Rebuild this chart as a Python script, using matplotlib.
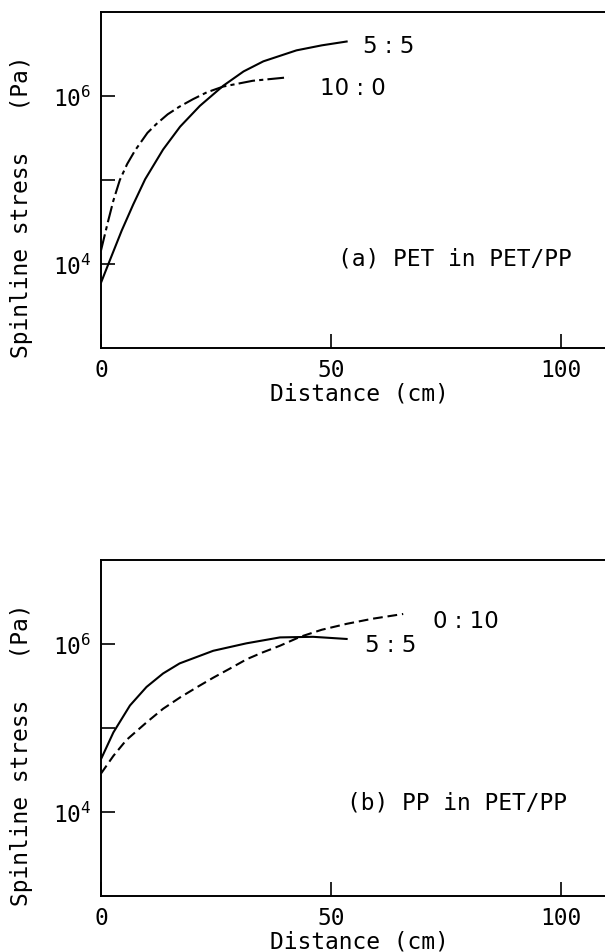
import matplotlib
matplotlib.use("Agg")
import matplotlib.pyplot as plt
from matplotlib.ticker import FixedLocator, FixedFormatter

plt.rcParams['font.family'] = 'DejaVu Sans Mono'
plt.rcParams['mathtext.fontset'] = 'custom'
plt.rcParams['mathtext.rm'] = 'DejaVu Sans Mono'
plt.rcParams['lines.scale_dashes'] = False

# (a) PET in PET/PP  -- distance (cm), spinline stress (Pa)
a55_x = [0, 1.6, 4.5, 7, 9.6, 13.5, 17.2, 21.5, 26.6, 31, 35.3, 42.5, 48, 53.4]
a55_y = [6.0e3, 1.0e4, 2.5e4, 5.1e4, 1.02e5, 2.3e5, 4.3e5, 7.6e5, 1.32e6,
         1.95e6, 2.57e6, 3.47e6, 3.98e6, 4.42e6]
a100_x = [0, 1.5, 2.7, 4.1, 5.7, 7.4, 10.1, 12, 14.5, 17, 20, 23, 26.6, 33, 40.7]
a100_y = [1.45e4, 3.16e4, 5.7e4, 1.0e5, 1.55e5, 2.24e5, 3.63e5, 4.6e5,
          6.03e5, 7.4e5, 9.12e5, 1.1e6, 1.29e6, 1.51e6, 1.66e6]

# (b) PP in PET/PP
b55_x = [0, 2.7, 6.3, 9.9, 13.5, 17.1, 24.4, 31.6, 38.9, 46.1, 53.4]
b55_y = [4.27e4, 8.9e4, 1.86e5, 3.09e5, 4.47e5, 5.89e5, 8.32e5, 1.02e6,
         1.2e6, 1.22e6, 1.15e6]
b010_x = [0, 2.7, 5.5, 9.9, 13.5, 17.2, 21, 24.4, 28, 31.7, 35, 38.9, 43.3,
          48, 53.4, 59, 65.7]
b010_y = [2.88e4, 4.68e4, 7.2e4, 1.17e5, 1.7e5, 2.32e5, 3.1e5, 3.98e5,
          5.1e5, 6.61e5, 7.9e5, 9.55e5, 1.22e6, 1.48e6, 1.74e6, 2.0e6, 2.28e6]

xticks = [0, 50, 100]
xticklabels = ['0', '50', '100']
yticks = [1e4, 1e5, 1e6]
yticklabels = ['$10^4$', '', '$10^6$']

fig = plt.figure(figsize=(6.05, 9.53), dpi=100)
ax1 = fig.add_axes([0.1669, 0.6335, 0.8364, 0.3532])
ax2 = fig.add_axes([0.1669, 0.05845, 0.8364, 0.35289])

for ax in (ax1, ax2):
    ax.set_yscale('log')
    ax.set_xlim(0, 110)
    ax.set_ylim(1e3, 1e7)
    ax.xaxis.set_major_locator(FixedLocator(xticks))
    ax.xaxis.set_major_formatter(FixedFormatter(xticklabels))
    ax.yaxis.set_major_locator(FixedLocator(yticks))
    ax.yaxis.set_major_formatter(FixedFormatter(yticklabels))
    ax.yaxis.set_minor_locator(FixedLocator([]))
    ax.tick_params(direction='in', length=10, width=1.2, labelsize=16.5,
                   pad=7, top=False, right=False)
    ax.spines['right'].set_visible(False)
    for s in ('left', 'bottom', 'top'):
        ax.spines[s].set_linewidth(1.4)

ax1.plot(a55_x, a55_y, color='black', lw=1.5)
ax1.plot(a100_x, a100_y, color='black', lw=1.5, linestyle=(0, (12, 3, 3, 3)))
ax1.text(57, 10**6.595, '5 : 5', family='DejaVu Sans', fontsize=16.5, va='center')
ax1.text(47.6, 10**6.10, '10 : 0', family='DejaVu Sans', fontsize=16.5, va='center')
ax1.text(51.6, 10**4.076, '(a) PET in PET/PP', fontsize=16.5, va='center')

ax2.plot(b55_x, b55_y, color='black', lw=1.5)
ax2.plot(b010_x, b010_y, color='black', lw=1.5, linestyle=(0, (7, 3.5)))
ax2.text(72.2, 10**6.28, '0 : 10', family='DejaVu Sans', fontsize=16.5, va='center')
ax2.text(57.4, 10**6.0, '5 : 5', family='DejaVu Sans', fontsize=16.5, va='center')
ax2.text(53.4, 10**4.12, '(b) PP in PET/PP', fontsize=16.5, va='center')

for yc in (0.7828, 0.2078):
    fig.text(0.0359, yc, 'Spinline stress   (Pa)', rotation=90, fontsize=16.5,
             ha='center', va='center')
for yc in (0.5866, 0.0115):
    fig.text(0.5934, yc, 'Distance (cm)', fontsize=16.5, ha='center', va='center')

fig.savefig('out.png', dpi=100)
